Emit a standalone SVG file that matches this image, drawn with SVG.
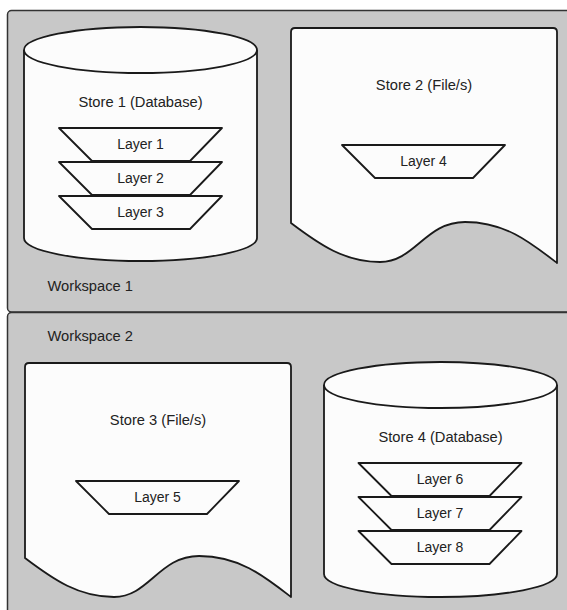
<svg xmlns="http://www.w3.org/2000/svg" width="567" height="610" viewBox="0 0 567 610">
<style>
.ws{fill:#c8c8c8;stroke:#333;stroke-width:1.5}
.shape{fill:#fcfcfc;stroke:#1a1a1a;stroke-width:1.8;stroke-linejoin:round}
.lbl{font-family:"Liberation Sans",Arial,sans-serif;font-size:14.7px;fill:#222;text-anchor:middle}
.wl{font-family:"Liberation Sans",Arial,sans-serif;font-size:14.7px;fill:#222}
.ll{font-family:"Liberation Sans",Arial,sans-serif;font-size:14px;fill:#222;text-anchor:middle}
</style>
<defs>
<path id="trap" d="M0,0 L163,0 L131,33 L33,33 Z"/>
</defs>
<rect width="567" height="610" fill="#ffffff"/>
<g id="workspace1">
<rect class="ws" x="7.5" y="10.5" width="600" height="301.5" rx="4"/>
<text class="wl" x="47.5" y="290.5">Workspace 1</text>
</g>
<g id="workspace2">
<rect class="ws" x="7.5" y="312.5" width="600" height="330" rx="4"/>
<text class="wl" x="47.5" y="340.5">Workspace 2</text>
</g>
<g id="store1">
<path class="shape" d="M24,50 A116.5,23 0 0 1 257,50 L257,238 A116.5,23 0 0 1 24,238 Z"/>
<path class="shape" fill="none" d="M24,50 A116.5,23 0 0 0 257,50"/>
<text class="lbl" x="140.5" y="106.5">Store 1 (Database)</text>
</g>
<g id="layer1"><use href="#trap" class="shape" x="59" y="128"/><text class="ll" x="140.5" y="149">Layer 1</text></g>
<g id="layer2"><use href="#trap" class="shape" x="59" y="162"/><text class="ll" x="140.5" y="183">Layer 2</text></g>
<g id="layer3"><use href="#trap" class="shape" x="59" y="196"/><text class="ll" x="140.5" y="217">Layer 3</text></g>
<g id="store2">
<path class="shape" d="M291,223 L291,32 Q291,28 295,28 L553,28 Q557,28 557,32 L557,263 C530,242 505,222 465,222 C425,222 415,262 380,262 C345,262 320,245 291,223 Z"/>
<text class="lbl" x="424" y="89.5">Store 2 (File/s)</text>
</g>
<g id="layer4"><use href="#trap" class="shape" x="342" y="145"/><text class="ll" x="423.5" y="166">Layer 4</text></g>
<g id="store3">
<path class="shape" d="M25,558 L25,367 Q25,363 29,363 L287,363 Q291,363 291,367 L291,597 C264,576 239,556 199,556 C159,556 149,597 114,597 C79,597 54,580 25,558 Z"/>
<text class="lbl" x="158" y="424.5">Store 3 (File/s)</text>
</g>
<g id="layer5"><use href="#trap" class="shape" x="76" y="481"/><text class="ll" x="157.5" y="502">Layer 5</text></g>
<g id="store4">
<path class="shape" d="M324,385 A116.5,23 0 0 1 557,385 L557,574 A116.5,23 0 0 1 324,574 Z"/>
<path class="shape" fill="none" d="M324,385 A116.5,23 0 0 0 557,385"/>
<text class="lbl" x="440.5" y="441.5">Store 4 (Database)</text>
</g>
<g id="layer6"><use href="#trap" class="shape" x="358.5" y="463"/><text class="ll" x="440" y="484">Layer 6</text></g>
<g id="layer7"><use href="#trap" class="shape" x="358.5" y="497"/><text class="ll" x="440" y="518">Layer 7</text></g>
<g id="layer8"><use href="#trap" class="shape" x="358.5" y="531"/><text class="ll" x="440" y="552">Layer 8</text></g>
<g id="connectors"></g>
</svg>
